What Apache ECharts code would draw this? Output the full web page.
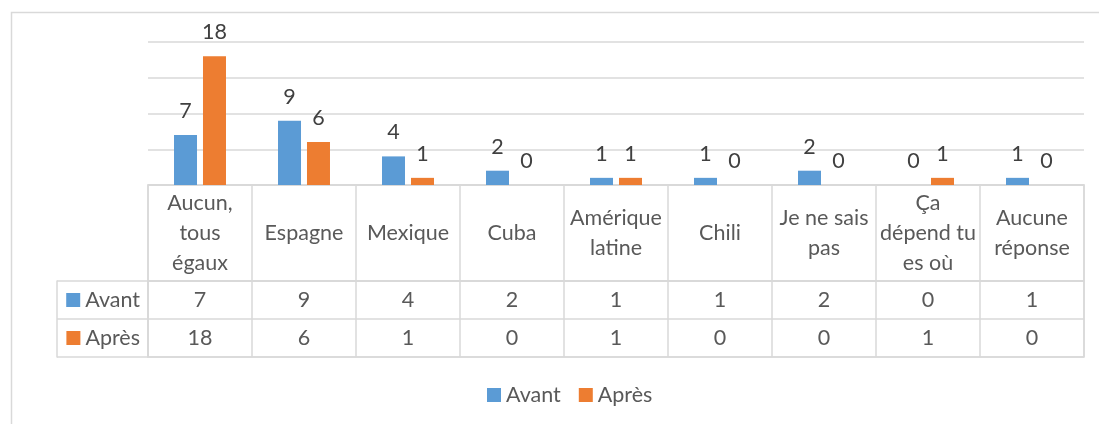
<!DOCTYPE html>
<html>
<head>
<meta charset="utf-8">
<script src="https://cdn.jsdelivr.net/npm/echarts@6/dist/echarts.min.js"></script>
<style>
  html, body { margin: 0; padding: 0; background: #fff; }
  #chart { width: 1099px; height: 424px; }
</style>
</head>
<body>
<div id="chart"></div>
<script>
// données
const categories = ['Aucun,\ntous\négaux', 'Espagne', 'Mexique', 'Cuba', 'Amérique\nlatine', 'Chili', 'Je ne sais\npas', 'Ça\ndépend tu\nes où', 'Aucune\nréponse'];
const avant = [7, 9, 4, 2, 1, 1, 2, 0, 1];
const apres = [18, 6, 1, 0, 1, 0, 0, 1, 0];
const seriesNames = ['Avant', 'Après'];
const colors = ['#5B9BD5', '#ED7D31'];

const FONT = 'Lato, "Open Sans", sans-serif';
const FS = 21.5;
const LINE = '#d9d9d9';

let myChart = echarts.init(document.getElementById('chart'));

// cellules du tableau : [colonne, ligne, valeur]
const tableData = [];
avant.forEach((v, i) => tableData.push([i, 0, v]));
apres.forEach((v, i) => tableData.push([i, 1, v]));

myChart.setOption({
  animation: false,
  color: colors,
  graphic: [{
    type: 'rect', silent: true,
    shape: { x: 11.5, y: 12.5, width: 1100, height: 430 },
    style: { fill: 'none', stroke: LINE, lineWidth: 1.5 }
  }],
  legend: {
    data: seriesNames,
    left: 482, top: 379,
    icon: 'rect', itemWidth: 14, itemHeight: 14, itemGap: 18,
    textStyle: { color: '#595959', fontSize: FS, fontFamily: FONT }
  },
  grid: [
    { left: 148, right: 15, top: 42, height: 143 },                    // barres
    { left: 148, right: 15, top: 185, height: 96, show: true, borderColor: LINE, borderWidth: 1.5 }, // en-têtes
    { left: 148, right: 15, top: 281, height: 76, show: true, borderColor: LINE, borderWidth: 1.5 }  // valeurs
  ],
  xAxis: [
    {
      type: 'category', gridIndex: 0, data: categories,
      axisLine: { lineStyle: { color: LINE, width: 1.5 } },
      axisTick: { show: false }, axisLabel: { show: false }
    },
    {
      type: 'category', gridIndex: 1, data: categories, position: 'bottom',
      axisLine: { show: false }, axisTick: { show: false },
      splitLine: { show: true, lineStyle: { color: LINE, width: 1.5 } },
      axisLabel: {
        interval: 0, margin: -48, verticalAlign: 'middle',
        color: '#595959', fontSize: FS, lineHeight: 30, fontFamily: FONT
      }
    },
    {
      type: 'category', gridIndex: 2, data: categories,
      axisLine: { show: false }, axisTick: { show: false }, axisLabel: { show: false },
      splitLine: { show: true, lineStyle: { color: LINE, width: 1.5 } }
    }
  ],
  yAxis: [
    {
      type: 'value', gridIndex: 0, min: 0, max: 20, interval: 5,
      axisLabel: { show: false }, axisLine: { show: false }, axisTick: { show: false },
      splitLine: { lineStyle: { color: LINE, width: 1.5 } }
    },
    {
      type: 'value', gridIndex: 1, show: false
    },
    {
      type: 'category', gridIndex: 2, data: seriesNames, inverse: true,
      axisLine: { show: true, lineStyle: { color: LINE, width: 1.5 } },
      axisTick: { show: true, length: 91, inside: false, lineStyle: { color: LINE, width: 1.5 } },
      splitLine: { show: true, lineStyle: { color: LINE, width: 1.5 } },
      axisLabel: {
        margin: 8,
        formatter: function (v, i) { return '{s' + i + '|}{t|' + v + '}'; },
        rich: {
          s0: { width: 14, height: 14, backgroundColor: colors[0] },
          s1: { width: 14, height: 14, backgroundColor: colors[1] },
          t: { color: '#595959', fontSize: FS, fontFamily: FONT, padding: [0, 0, 0, 5] }
        }
      }
    },
    {
      type: 'category', gridIndex: 2, data: seriesNames, inverse: true,
      position: 'left', offset: 91,
      axisLine: { show: true, lineStyle: { color: LINE, width: 1.5 } },
      axisTick: { show: false }, axisLabel: { show: false }, splitLine: { show: false }
    }
  ],
  series: [
    {
      name: seriesNames[0], type: 'bar', xAxisIndex: 0, yAxisIndex: 0,
      data: avant, barWidth: 23, barGap: '26%',
      label: { show: true, position: 'top', distance: 13, color: '#404040', fontSize: FS, fontFamily: FONT }
    },
    {
      name: seriesNames[1], type: 'bar', xAxisIndex: 0, yAxisIndex: 0,
      data: apres, barWidth: 23, barGap: '26%',
      label: { show: true, position: 'top', distance: 13, color: '#404040', fontSize: FS, fontFamily: FONT }
    },
    {
      name: 'tableau', type: 'custom', xAxisIndex: 2, yAxisIndex: 2,
      data: tableData, silent: true,
      renderItem: function (params, api) {
        const p = api.coord([api.value(0), api.value(1)]);
        return {
          type: 'text', x: p[0], y: p[1],
          style: {
            text: String(api.value(2)), fill: '#595959',
            font: FS + 'px ' + FONT, align: 'center', verticalAlign: 'middle'
          }
        };
      }
    }
  ]
});
</script>
</body>
</html>
